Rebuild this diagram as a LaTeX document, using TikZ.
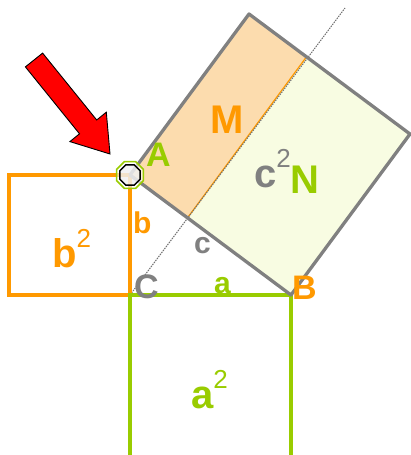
\documentclass[tikz,border=0pt]{standalone}
\usepackage{fontspec}
\setmainfont{Liberation Sans}
\usetikzlibrary{calc,shapes.geometric}
\definecolor{orng}{HTML}{FF9900}
\definecolor{grn}{HTML}{99CC00}
\definecolor{gry}{HTML}{808080}
\definecolor{mfill}{HTML}{FCDCAE}
\definecolor{nfill}{HTML}{F8FCE2}
\newcommand\supii{\raisebox{20pt}{\mdseries\fontsize{26}{26}\selectfont 2}}
\begin{document}
\begin{tikzpicture}[x=1pt,y=-1pt,
  lbl/.style={inner sep=0pt, anchor=base west, font=\bfseries\fontsize{#1}{#1}\selectfont},
  dotline/.style={gray!90!black, line width=1pt, dash pattern=on 1.5pt off 1pt},
  marker/.style={regular polygon, regular polygon sides=8, inner sep=0pt}]
\useasboundingbox (0,0) rectangle (410,455);
\coordinate (A) at (130,175);
\coordinate (B) at (291,295);
\coordinate (C) at (130,295);
\coordinate (D) at (9,175);
\coordinate (F) at (291,458);
\coordinate (P) at ($(B)+(119,-161)$);
\coordinate (Q) at ($(A)+(119,-161)$);
\coordinate (H) at ($(A)!(C)!(B)$);
\coordinate (K) at ($(H)+(119,-161)$);
\coordinate (E) at (345,8);
% c^2 square regions
\fill[mfill] (A) -- (H) -- (K) -- (Q) -- cycle;
\fill[nfill] (H) -- (B) -- (P) -- (K) -- cycle;
\draw[orng, line width=1.2pt] (H) -- (K);
\draw[dotline] (C) -- (E);
% squares
\draw[orng, line width=3.3pt] (D) rectangle (C);
\draw[grn, line width=3.3pt] (C) rectangle (F);
\draw[gry, line width=3.3pt, line join=round] (A) -- (B) -- (P) -- (Q) -- cycle;
% red arrow
\draw[black, line width=0.9pt, fill=red, line join=miter]
  (25.4,66.9) -- (42.6,53.1) -- (96.7,120) -- (106.3,112.2) -- (110,154)
  -- (69.9,141.6) -- (79.5,133.8) -- cycle;
% point marker
\node[marker, minimum size=29pt, draw=grn, line width=1.6pt, fill=white, fill opacity=0.6] (ptA) at (A) {};
\node[marker, minimum size=22pt, draw=black, line width=1.4pt, fill=gray!15, fill opacity=0.6] (ptAi) at (A) {};
% labels
\node[lbl=40, text=orng] (lM) at (210,133) {M};
\node[lbl=40, text=gry] (lc2) at (254,187) {c\supii};
\node[lbl=40, text=grn] (lN) at (290,193) {N};
\node[lbl=34, text=grn] (lA) at (146,166) {A};
\node[lbl=34, text=orng] (lB) at (292,299) {B};
\node[lbl=34, text=gry] (lC) at (134,298) {C};
\node[lbl=30, text=orng] (lb) at (133,233) {b};
\node[lbl=30, text=gry] (lc) at (194,253) {c};
\node[lbl=30, text=grn] (la) at (214,293) {a};
\node[lbl=40, text=orng] (lb2) at (52,267) {b\supii};
\node[lbl=40, text=grn] (la2) at (191,408) {a\supii};
\end{tikzpicture}
\end{document}
